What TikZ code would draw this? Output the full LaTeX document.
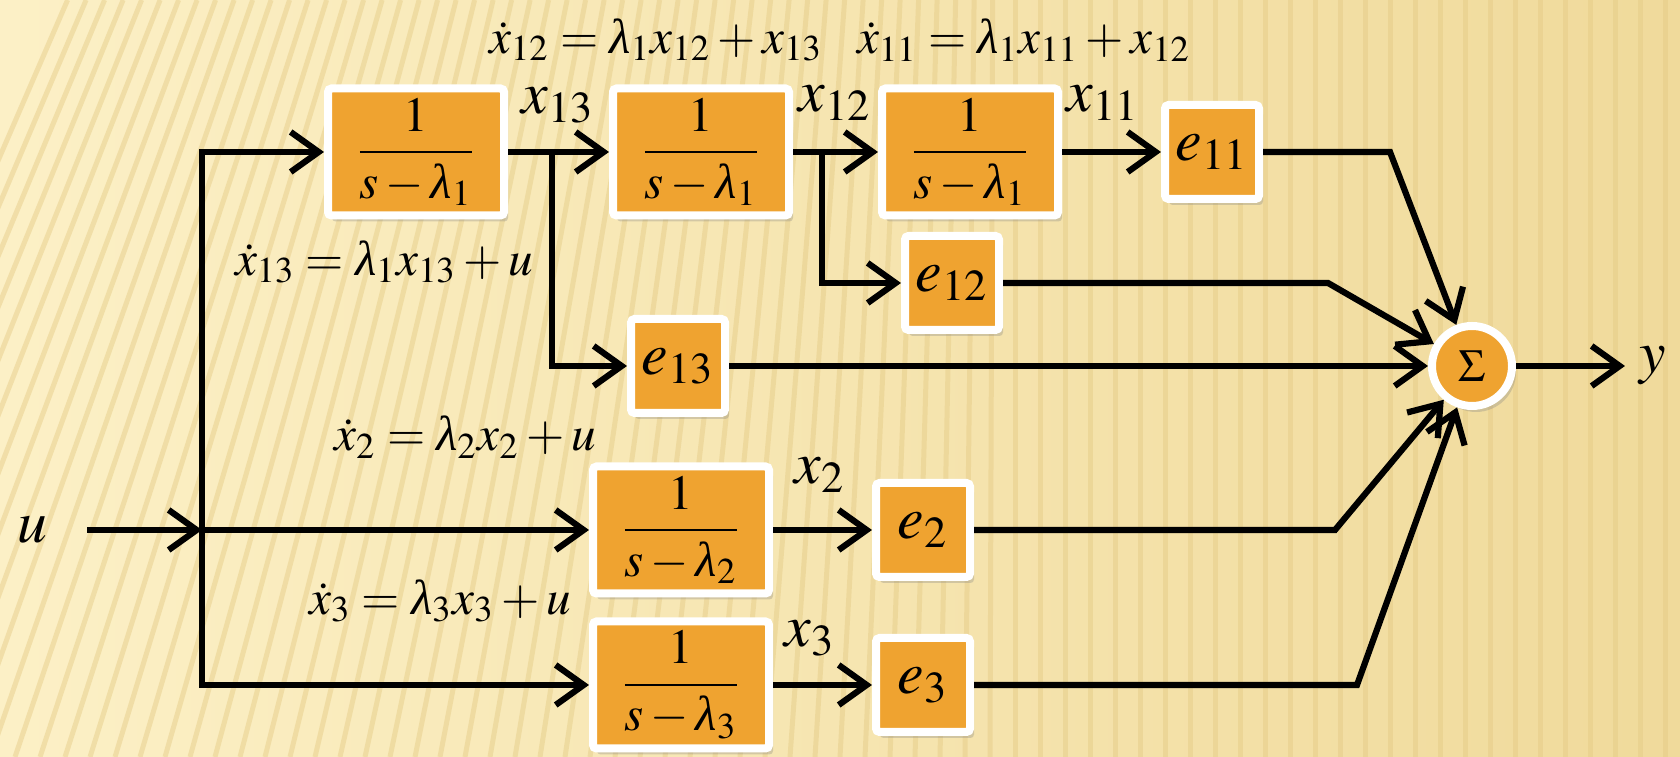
\documentclass[tikz,border=0pt]{standalone}
\usepackage{mathptmx}
\usepackage[no-math]{fontspec}
\newfontfamily\grkfont{Liberation Serif}
\newcommand{\lam}{\mbox{\grkfont\itshape λ}}
\usetikzlibrary{arrows.meta,shadows}

\definecolor{boxorange}{RGB}{239,163,48}
\definecolor{bgcream}{RGB}{252,240,198}
\definecolor{bggold}{RGB}{240,218,155}
\definecolor{stripe}{RGB}{228,202,132}

\begin{document}
\begin{tikzpicture}[
        every node/.style={font=\fontsize{17}{20}\selectfont, inner sep=1pt},
        eq/.style={font=\fontsize{14}{17}\selectfont},
        tf/.style={
            draw=white,
            fill=boxorange,
            line width=0.08cm,
            rounded corners=1pt,
            minimum width=1.76cm,
            minimum height=1.27cm,
            inner sep=0pt,
            font=\fontsize{14}{16}\selectfont,
            drop shadow={shadow xshift=0.04cm, shadow yshift=-0.06cm, opacity=0.3}
        },
        gain/.style={
            tf,
            minimum width=0.94cm,
            minimum height=0.94cm,
            font=\fontsize{17}{20}\selectfont
        },
        sumnode/.style={
            circle,
            draw=white,
            fill=boxorange,
            line width=0.08cm,
            minimum size=0.8cm,
            inner sep=0pt,
            font=\fontsize{13}{15}\selectfont,
            drop shadow={shadow xshift=0.04cm, shadow yshift=-0.06cm, opacity=0.3}
        },
        wire/.style={line width=0.062cm},
        arrow/.style={wire, -{Straight Barb[length=2.8mm, width=4mm]}}
    ]

    \useasboundingbox (0,0) rectangle (16.8,7.57);

    % Background
    \fill[left color=bgcream, right color=bggold] (0,0) rectangle (16.8,7.57);
    \begin{scope}
        \clip (0,0) rectangle (16.8,7.57);
        \foreach \x in {-2.6,-2.35,...,16.9} {
            \pgfmathsetmacro\off{max(0,2.6*(1-\x/10))}
            \draw[stripe, line width=0.05cm, opacity=0.45] (\x,0) -- (\x+\off,7.57);
        }
    \end{scope}

    % Input
    \node (u) at (0.32,2.27) {$u$};
    \coordinate (uin) at (0.87,2.27);
    \coordinate (junc) at (2.02,2.27);

    % Chain of three blocks for lambda_1
    \node[tf] (tfa) at (4.16,6.05) {$\displaystyle\frac{1}{s-\lam_1}$};
    \node[tf] (tfb) at (7.01,6.05) {$\displaystyle\frac{1}{s-\lam_1}$};
    \node[tf] (tfc) at (9.70,6.05) {$\displaystyle\frac{1}{s-\lam_1}$};
    \node[gain] (e11) at (12.12,6.05) {$e_{11}$};
    \node[gain] (e12) at (9.52,4.74) {$e_{12}$};
    \node[gain] (e13) at (6.78,3.91) {$e_{13}$};

    % Blocks for lambda_2 and lambda_3
    \node[tf] (tf2) at (6.81,2.27) {$\displaystyle\frac{1}{s-\lam_2}$};
    \node[gain] (e2) at (9.23,2.27) {$e_{2}$};
    \node[tf] (tf3) at (6.81,0.72) {$\displaystyle\frac{1}{s-\lam_3}$};
    \node[gain] (e3) at (9.23,0.72) {$e_{3}$};

    % Sum and output
    \node[sumnode] (sum) at (14.72,3.91) {$\Sigma$};
    \node[inner sep=4pt] (y) at (16.53,3.91) {$y$};

    % Bends
    \coordinate (b13) at (5.52,6.05);
    \coordinate (b12) at (8.22,6.05);
    \coordinate (k11) at (13.90,6.05);
    \coordinate (k12) at (13.28,4.74);
    \coordinate (k2) at (13.35,2.27);
    \coordinate (k3) at (13.57,0.72);

    % Signal lines
    \draw[arrow] (uin) -- (junc);
    \draw[arrow] (tf3 -| junc) -- (tfa -| junc) -- (tfa);
    \draw[arrow] (tfa -| junc) |- (tf3);
    \draw[arrow] (junc) -- (tf2);
    \draw[arrow] (tfa) -- (tfb);
    \draw[arrow] (b13) |- (e13);
    \draw[arrow] (tfb) -- (tfc);
    \draw[arrow] (b12) |- (e12);
    \draw[arrow] (tfc) -- (e11);
    \draw[arrow] (tf2) -- (e2);
    \draw[arrow] (tf3) -- (e3);

    % Into the sum
    \draw[arrow] (e11) -- (k11) -- (sum);
    \draw[arrow] (e12) -- (k12) -- (sum);
    \draw[arrow] (e13) -- (sum);
    \draw[arrow] (e2) -- (k2) -- (sum);
    \draw[arrow] (e3) -- (k3) -- (sum);
    \draw[arrow] (sum) -- (y);

    % State labels
    \node (lx13) at (5.58,6.52) {$x_{13}$};
    \node (lx12) at (8.35,6.54) {$x_{12}$};
    \node (lx11) at (11.03,6.54) {$x_{11}$};
    \node (lx2) at (8.20,2.82) {$x_{2}$};
    \node (lx3) at (8.10,1.19) {$x_{3}$};

    % State equations
    \node[eq] (eq12) at (6.56,7.17) {$\dot{x}_{12} = \lam_1 x_{12} + x_{13}$};
    \node[eq] (eq11) at (10.24,7.17) {$\dot{x}_{11} = \lam_1 x_{11} + x_{12}$};
    \node[eq] (eq13) at (3.84,4.95) {$\dot{x}_{13} = \lam_1 x_{13} + u$};
    \node[eq] (eq2) at (4.65,3.20) {$\dot{x}_{2} = \lam_2 x_{2} + u$};
    \node[eq] (eq3) at (4.40,1.56) {$\dot{x}_{3} = \lam_3 x_{3} + u$};

\end{tikzpicture}
\end{document}
